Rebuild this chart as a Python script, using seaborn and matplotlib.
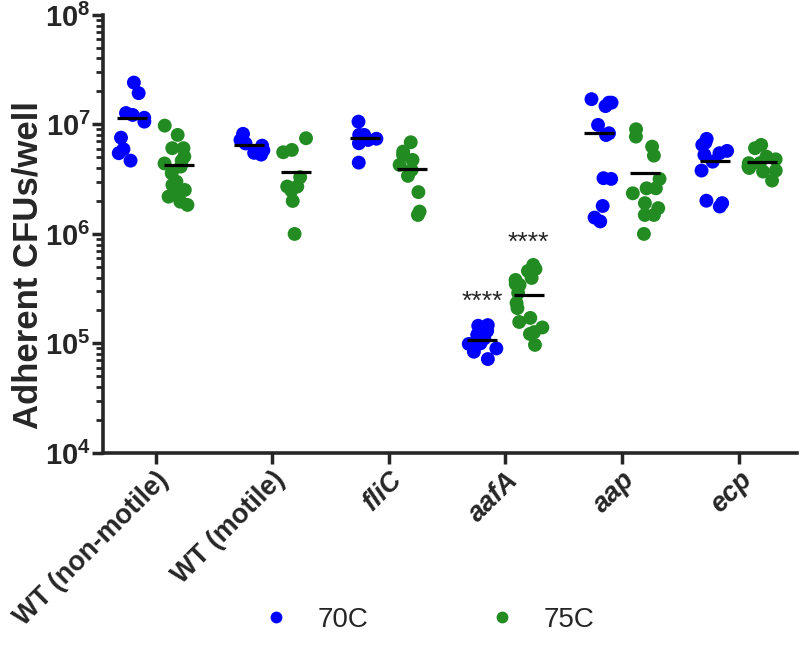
import numpy as np
import pandas as pd
import matplotlib
matplotlib.use('Agg')
import matplotlib.pyplot as plt
import seaborn as sns
from matplotlib.ticker import LogLocator, FuncFormatter, NullFormatter

# categories
strains = ['WT (non-motile)', 'WT (motile)', 'fliC', 'aafA', 'aap', 'ecp']
temps = ['70C', '75C']

# adherent CFUs per well
wt_nonmotile_70 = [2.41e7, 1.93e7, 1.27e7, 1.22e7, 1.15e7, 1.06e7, 7.57e6, 5.94e6, 5.46e6, 4.67e6]
wt_nonmotile_75 = [9.75e6, 8.02e6, 6.07e6, 6.07e6, 5.09e6, 4.67e6, 4.4e6, 4.12e6, 3.58e6, 3.0e6,
                   2.80e6, 2.52e6, 2.35e6, 2.19e6, 1.97e6, 1.84e6]
wt_motile_70 = [8.2e6, 7.2e6, 6.7e6, 6.4e6, 5.8e6, 5.5e6, 5.3e6]
wt_motile_75 = [7.48e6, 5.85e6, 5.57e6, 3.30e6, 2.71e6, 2.49e6, 2.71e6, 2.00e6, 1.00e6]
flic_70 = [1.06e7, 8.02e6, 8.02e6, 7.4e6, 7.21e6, 6.73e6, 4.48e6]
flic_75 = [6.87e6, 5.65e6, 5.27e6, 4.74e6, 4.27e6, 3.84e6, 3.39e6, 2.41e6, 1.60e6, 1.49e6]
aafa_70 = [1.47e5, 1.45e5, 1.3e5, 1.2e5, 1.11e5, 1.05e5, 1.0e5, 9.9e4, 9.3e4, 9.0e4, 8.4e4, 7.2e4]
aafa_75 = [5.21e5, 4.79e5, 4.59e5, 3.96e5, 3.80e5, 3.49e5, 3.42e5, 2.89e5, 2.34e5, 2.1e5,
           1.71e5, 1.57e5, 1.4e5, 1.27e5, 1.22e5, 9.7e4]
aap_70 = [1.70e7, 1.58e7, 1.58e7, 1.47e7, 9.9e6, 8.3e6, 8.0e6, 3.23e6, 3.18e6, 1.80e6, 1.41e6, 1.30e6]
aap_75 = [9.04e6, 7.74e6, 6.27e6, 5.19e6, 3.18e6, 2.61e6, 2.61e6, 2.35e6, 1.91e6, 1.72e6,
          1.49e6, 1.49e6, 1.0e6]
ecp_70 = [7.38e6, 6.82e6, 6.5e6, 5.73e6, 5.46e6, 5.27e6, 4.57e6, 3.79e6, 2.01e6, 1.91e6, 1.78e6]
ecp_75 = [6.50e6, 6.07e6, 5.08e6, 4.8e6, 4.43e6, 4.43e6, 4.12e6, 4.0e6, 3.79e6, 3.71e6, 3.07e6]

groups = {
    ('WT (non-motile)', '70C'): wt_nonmotile_70, ('WT (non-motile)', '75C'): wt_nonmotile_75,
    ('WT (motile)', '70C'): wt_motile_70, ('WT (motile)', '75C'): wt_motile_75,
    ('fliC', '70C'): flic_70, ('fliC', '75C'): flic_75,
    ('aafA', '70C'): aafa_70, ('aafA', '75C'): aafa_75,
    ('aap', '70C'): aap_70, ('aap', '75C'): aap_75,
    ('ecp', '70C'): ecp_70, ('ecp', '75C'): ecp_75,
}
rows = []
for (s, t), vals in groups.items():
    for v in vals:
        rows.append({'strain': s, 'temp': t, 'cfu': v})
df = pd.DataFrame(rows)

sns.set_style('ticks')
plt.rcParams['font.family'] = ['Liberation Sans', 'DejaVu Sans']
plt.rcParams['mathtext.fontset'] = 'custom'
plt.rcParams['mathtext.bf'] = 'Liberation Sans:bold'
plt.rcParams['mathtext.rm'] = 'Liberation Sans'

fig, ax = plt.subplots(figsize=(8, 6.48), dpi=100)
fig.subplots_adjust(left=0.129, right=0.996, bottom=0.301, top=0.977)

# means (computed on linear values before switching to log axis)
sns.pointplot(data=df, x='strain', y='cfu', hue='temp', order=strains, hue_order=temps,
              estimator='mean', errorbar=None, dodge=0.4, markers='_', linestyle='none',
              palette={'70C': 'black', '75C': 'black'}, markersize=21, markeredgewidth=2.3,
              legend=False, ax=ax)
for ln in ax.lines:
    ln.set_zorder(5)

np.random.seed(3)
sns.stripplot(data=df, x='strain', y='cfu', hue='temp', order=strains, hue_order=temps,
              dodge=True, jitter=0.26, palette={'70C': '#0000FF', '75C': '#228B22'},
              size=10, linewidth=0, ax=ax, zorder=3)

ax.set_yscale('log')
ax.set_ylim(1e4, 1e8)
ax.set_xlim(-0.45, 5.5)
ax.yaxis.set_major_locator(LogLocator(base=10, numticks=10))
ax.yaxis.set_minor_locator(LogLocator(base=10, subs=np.arange(2, 10), numticks=20))
ax.yaxis.set_minor_formatter(NullFormatter())
ax.yaxis.set_major_formatter(FuncFormatter(lambda v, p: r'$\mathbf{10^{%d}}$' % round(np.log10(v))))

sns.despine(ax=ax)
for sp in ['left', 'bottom']:
    ax.spines[sp].set_linewidth(2.6)
ax.tick_params(axis='both', which='major', length=8, width=2.5, pad=2)
ax.tick_params(axis='x', which='major', labelsize=19.5)
ax.tick_params(axis='y', which='major', labelsize=21, pad=1)
ax.tick_params(axis='y', which='minor', length=5, width=2.0)

ax.set_xlabel('')
ax.set_ylabel('Adherent CFUs/well', fontsize=25, fontweight='bold')
ax.yaxis.set_label_coords(-0.085, 0.43)
ax.set_xticks(range(len(strains)))
ax.set_xticklabels(strains, rotation=45, ha='right', rotation_mode='anchor')
for lab in ax.get_xticklabels():
    lab.set_fontweight('bold')
    if not lab.get_text().startswith('WT'):
        lab.set_fontstyle('italic')

# significance stars
ax.text(3 - 0.2, 2.4e5, '****', ha='center', va='center', fontsize=19)
ax.text(3 + 0.2, 8.3e5, '****', ha='center', va='center', fontsize=19)

handles, labels = ax.get_legend_handles_labels()
ax.legend(handles[-2:], labels[-2:], loc='center', bbox_to_anchor=(0.535, 0.043),
          bbox_transform=fig.transFigure, ncol=2, frameon=False, columnspacing=4.3,
          handlelength=1.0, handletextpad=1.0, markerscale=0.85, fontsize=20)

fig.savefig('out.png', dpi=100)
